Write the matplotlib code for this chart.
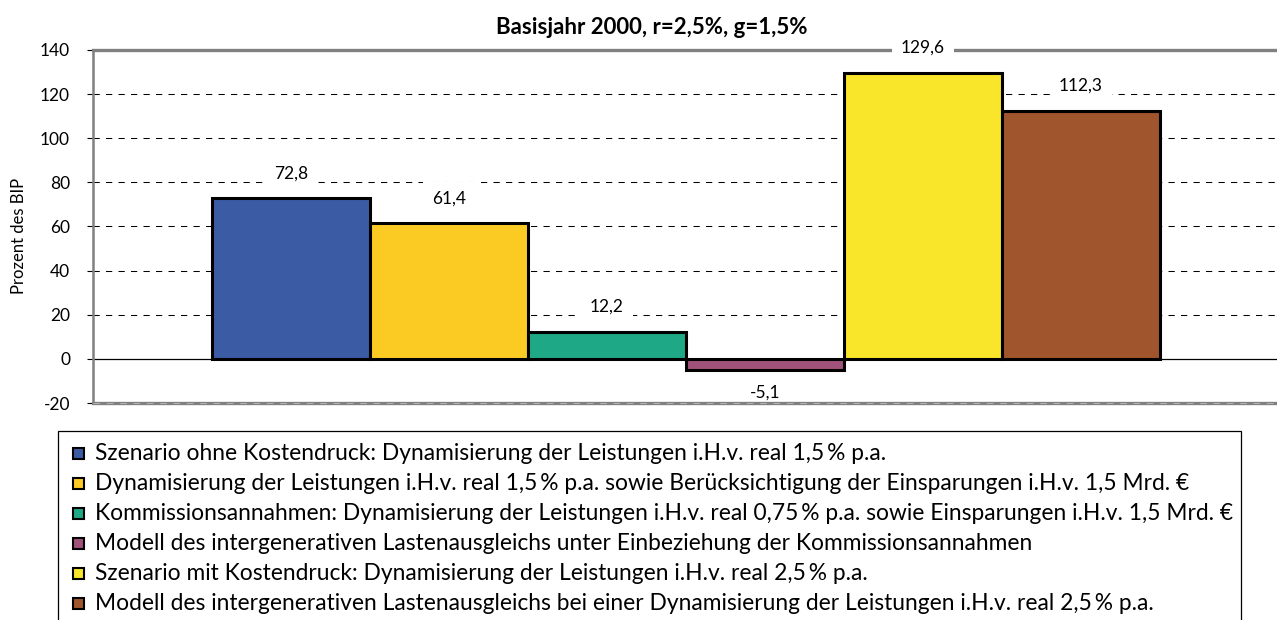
import numpy as np
import matplotlib
matplotlib.use('Agg')
import matplotlib.pyplot as plt
from matplotlib.patches import Rectangle

plt.rcParams['font.family'] = ['Lato', 'DejaVu Sans']

# data
values = [72.8, 61.4, 12.2, -5.1, 129.6, 112.3]
value_labels = ['72,8', '61,4', '12,2', '-5,1', '129,6', '112,3']
colors = ['#3B5BA5', '#FBCB24', '#1FA885', '#A1527A', '#F9E52A', '#A0552D']
labels = [
    'Szenario ohne Kostendruck: Dynamisierung der Leistungen i.H.v. real 1,5\u2009% p.a.',
    'Dynamisierung der Leistungen i.H.v. real 1,5\u2009% p.a. sowie Berücksichtigung der Einsparungen i.H.v. 1,5 Mrd. €',
    'Kommissionsannahmen: Dynamisierung der Leistungen i.H.v. real 0,75\u2009% p.a. sowie Einsparungen i.H.v. 1,5 Mrd. €',
    'Modell des intergenerativen Lastenausgleichs unter Einbeziehung der Kommissionsannahmen',
    'Szenario mit Kostendruck: Dynamisierung der Leistungen i.H.v. real 2,5\u2009% p.a.',
    'Modell des intergenerativen Lastenausgleichs bei einer Dynamisierung der Leistungen i.H.v. real 2,5\u2009% p.a.',
]
yticks = [-20, 0, 20, 40, 60, 80, 100, 120, 140]

W, H = 1277, 620
fig = plt.figure(figsize=(W / 100, H / 100), dpi=100)

def fx(px):
    return px / W

def fy(py):
    return 1 - py / H

# plot area in pixels: left 93, right 1279, top 50, bottom 403
ax = fig.add_axes([fx(93), fy(403), fx(1279 - 93), (403 - 50) / H])

x = np.arange(len(values))
ax.bar(x, values, width=1.0, color=colors, edgecolor='black', linewidth=2.2, zorder=3)

ax.set_xlim(-1.253, 6.253)
ax.set_ylim(-20, 140)
ax.set_yticks(yticks)
ax.set_yticklabels([str(t) for t in yticks], fontsize=12.5)
ax.set_xticks([])
ax.tick_params(axis='y', direction='out', length=4.5, width=0.8, pad=12, color='black')

for t in yticks[2:-1]:
    ax.axhline(t, color='black', lw=0.75, dashes=(6, 6), zorder=1)
ax.axhline(0, color='black', lw=0.9, zorder=2)

for s in ['left', 'top', 'bottom']:
    ax.spines[s].set_color('#808080')
ax.spines['left'].set_linewidth(1.8)
ax.spines['top'].set_linewidth(2.4)
ax.spines['bottom'].set_linewidth(2.4)
ax.spines['right'].set_visible(False)
ax.axhline(-20, color='#b0b0b0', lw=0.8, dashes=(6, 6), zorder=4, clip_on=False)

for xi, v, lab in zip(x, values, value_labels):
    if v >= 0:
        off, z = 18, 6
    else:
        off, z = -16, 2
    ax.annotate(lab, (xi, v), xytext=(0, off), textcoords='offset points',
                ha='center', va='center', fontsize=12.5, zorder=z,
                annotation_clip=False,
                bbox=dict(boxstyle='square,pad=0.5', fc='white', ec='none'))

fig.text(fx(652), fy(27), 'Basisjahr 2000, r=2,5%, g=1,5%', ha='center', va='center',
         fontsize=16, fontweight='bold')
fig.text(fx(19), fy(236), 'Prozent des BIP', rotation=90, ha='center', va='center', fontsize=12)

# legend box
fig.patches.append(Rectangle((fx(58), fy(640)), fx(1241 - 58), (640 - 431) / H,
                             transform=fig.transFigure, fill=False, ec='black', lw=0.9))
texts = []
for i, (lab, col) in enumerate(zip(labels, colors)):
    yc = 453 + 30 * i
    fig.patches.append(Rectangle((fx(73), fy(yc + 5.5)), fx(11), 11 / H,
                                 transform=fig.transFigure, fc=col, ec='black', lw=1.5))
    texts.append(fig.text(fx(95), fy(yc), lab, ha='left', va='center', fontsize=16))

# fit the longest legend line to the box width (ends near x=1232)
r = fig.canvas.get_renderer()
wmax = max(t.get_window_extent(r).width for t in texts)
for t in texts:
    t.set_fontsize(16 * 1137 / wmax)

fig.savefig('out.png', dpi=100)
